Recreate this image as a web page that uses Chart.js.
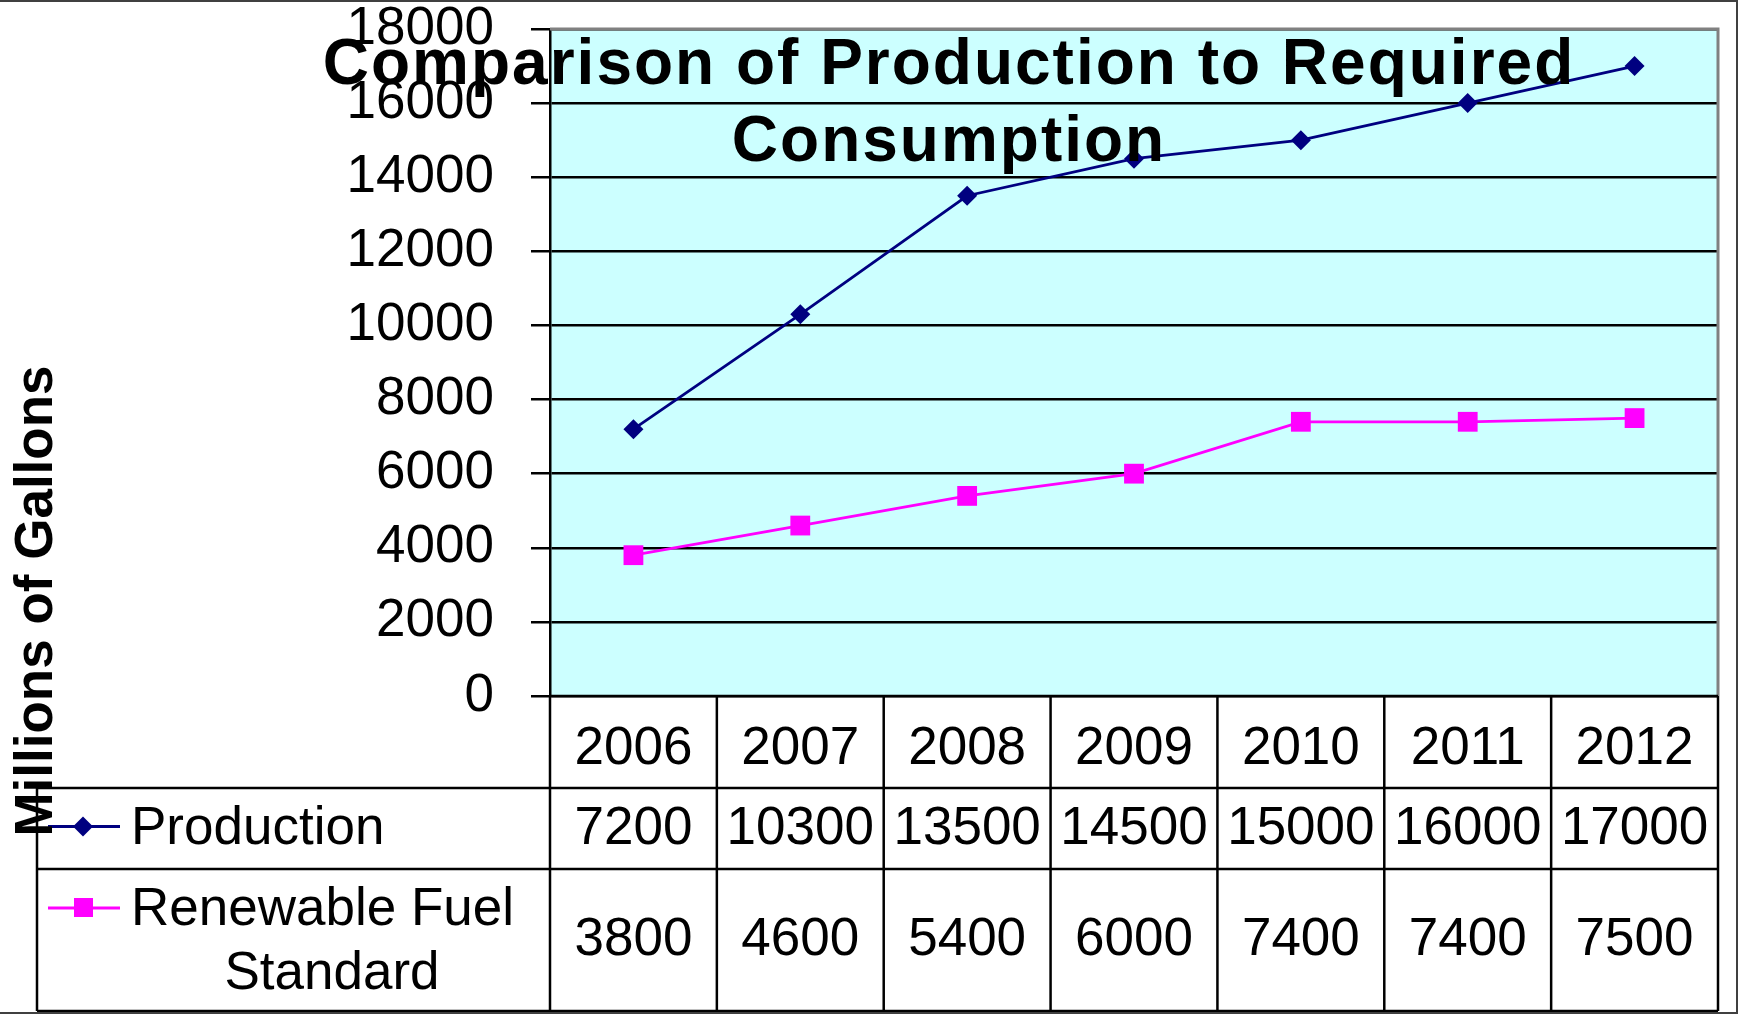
<!DOCTYPE html>
<html>
<head>
<meta charset="utf-8">
<title>Comparison of Production to Required Consumption</title>
<script src="https://cdn.jsdelivr.net/npm/chart.js@4.4.1/dist/chart.umd.min.js"></script>
<style>
    html, body { margin: 0; padding: 0; background: #ffffff; }
    #chart { display: block; }
</style>
</head>
<body>
<canvas id="chart" width="1739" height="1015"></canvas>
<script>
const years = ['2006', '2007', '2008', '2009', '2010', '2011', '2012'];
const production = [7200, 10300, 13500, 14500, 15000, 16000, 17000];
const renewableFuel = [3800, 4600, 5400, 6000, 7400, 7400, 7500];
const yTicks = [0, 2000, 4000, 6000, 8000, 10000, 12000, 14000, 16000, 18000];
const titleLines = ['Comparison of Production to Required', 'Consumption'];
const yTitle = 'Millions of Gallons';

const FONT = '"Liberation Sans", Arial, sans-serif';

// fundo azul claro da area do grafico
const plotBackground = {
    id: 'plotBackground',
    beforeDraw(chart) {
        const { ctx, chartArea } = chart;
        ctx.save();
        ctx.fillStyle = '#ccffff';
        ctx.fillRect(chartArea.left, chartArea.top, chartArea.right - chartArea.left, chartArea.bottom - chartArea.top);
        ctx.restore();
    }
};

// tabela de dados embaixo do eixo x, com legenda
const dataTable = {
    id: 'dataTable',
    afterDraw(chart) {
        const { ctx, chartArea } = chart;
        const x = chart.scales.x;
        const left = chartArea.left, right = chartArea.right, top = chartArea.bottom;
        const row1 = top + 92, row2 = top + 173, bottom = top + 315;
        const legendLeft = 37;

        ctx.save();
        // borda cinza da area do grafico (topo e direita)
        ctx.strokeStyle = '#808080';
        ctx.lineWidth = 3;
        ctx.beginPath();
        ctx.moveTo(left, chartArea.top);
        ctx.lineTo(right, chartArea.top);
        ctx.lineTo(right, chartArea.bottom);
        ctx.stroke();

        ctx.strokeStyle = '#000000';
        ctx.lineWidth = 2.5;
        ctx.beginPath();
        ctx.moveTo(left, top); ctx.lineTo(right, top);
        ctx.moveTo(legendLeft, row1); ctx.lineTo(right, row1);
        ctx.moveTo(legendLeft, row2); ctx.lineTo(right, row2);
        ctx.moveTo(legendLeft, bottom); ctx.lineTo(right, bottom);
        ctx.moveTo(legendLeft, row1); ctx.lineTo(legendLeft, bottom);
        ctx.moveTo(left, top); ctx.lineTo(left, bottom);
        ctx.moveTo(right, top); ctx.lineTo(right, bottom);
        for (let i = 0; i < years.length - 1; i++) {
            const bx = (x.getPixelForValue(i) + x.getPixelForValue(i + 1)) / 2;
            ctx.moveTo(bx, top); ctx.lineTo(bx, bottom);
        }
        ctx.stroke();

        ctx.fillStyle = '#000000';
        ctx.font = '53px ' + FONT;
        ctx.textAlign = 'center';
        ctx.textBaseline = 'middle';
        years.forEach((y, i) => {
            const cx = x.getPixelForValue(i);
            ctx.fillText(String(production[i]), cx, (row1 + row2) / 2 + 1);
            ctx.fillText(String(renewableFuel[i]), cx, (row2 + bottom) / 2);
        });

        // legenda
        const ds = chart.data.datasets;
        const keyY1 = (row1 + row2) / 2 - 2, keyY2 = row2 + 39;
        ctx.lineWidth = 2.8;
        ctx.strokeStyle = ds[0].borderColor;
        ctx.beginPath(); ctx.moveTo(48, keyY1); ctx.lineTo(120, keyY1); ctx.stroke();
        ctx.fillStyle = ds[0].borderColor;
        ctx.beginPath();
        ctx.moveTo(83, keyY1 - 10); ctx.lineTo(93, keyY1); ctx.lineTo(83, keyY1 + 10); ctx.lineTo(73, keyY1);
        ctx.closePath(); ctx.fill();

        ctx.strokeStyle = ds[1].borderColor;
        ctx.beginPath(); ctx.moveTo(48, keyY2); ctx.lineTo(120, keyY2); ctx.stroke();
        ctx.fillStyle = ds[1].borderColor;
        ctx.fillRect(74, keyY2 - 10, 19, 19);

        ctx.fillStyle = '#000000';
        ctx.textAlign = 'left';
        ctx.fillText(ds[0].label, 131, keyY1 + 3);
        ctx.fillText('Renewable Fuel', 131, keyY2 + 2);
        ctx.textAlign = 'center';
        ctx.fillText('Standard', 332, keyY2 + 66);

        // titulo do eixo y
        ctx.save();
        ctx.translate(37, 601);
        ctx.rotate(-Math.PI / 2);
        ctx.font = 'bold 53px ' + FONT;
        ctx.fillText(yTitle, 0, 0);
        ctx.restore();

        // titulo sobreposto ao grafico
        ctx.font = 'bold 64px ' + FONT;
        if ('letterSpacing' in ctx) ctx.letterSpacing = '2px';
        ctx.fillText(titleLines[0], 949, 66);
        ctx.fillText(titleLines[1], 949, 143);

        // borda externa
        ctx.letterSpacing = '0px';
        ctx.strokeStyle = '#404040';
        ctx.lineWidth = 2;
        ctx.beginPath();
        ctx.moveTo(0, 1); ctx.lineTo(1737, 1);
        ctx.lineTo(1737, 1013); ctx.lineTo(0, 1013);
        ctx.stroke();
        ctx.restore();
    }
};

new Chart(document.getElementById('chart'), {
    type: 'line',
    data: {
        labels: years,
        datasets: [
            {
                label: 'Production',
                data: production,
                borderColor: '#000080',
                backgroundColor: '#000080',
                borderWidth: 2.8,
                pointStyle: 'rectRot',
                pointRadius: 10,
                pointBorderWidth: 0,
                tension: 0
            },
            {
                label: 'Renewable Fuel Standard',
                data: renewableFuel,
                borderColor: '#ff00ff',
                backgroundColor: '#ff00ff',
                borderWidth: 2.8,
                pointStyle: 'rect',
                pointRadius: 14,
                pointBorderWidth: 0,
                tension: 0
            }
        ]
    },
    options: {
        responsive: false,
        animation: false,
        devicePixelRatio: 1,
        layout: { padding: { left: 0, top: 29, right: 21, bottom: 4 } },
        plugins: {
            legend: { display: false },
            tooltip: { enabled: false },
            title: { display: false }
        },
        scales: {
            x: {
                type: 'category',
                offset: true,
                grid: { display: false },
                border: { display: false },
                ticks: {
                    color: '#000000',
                    font: { family: FONT, size: 53 },
                    padding: 14,
                    maxRotation: 0,
                    autoSkip: false
                },
                afterFit(scale) {
                    scale.height = 315;
                    scale.paddingLeft = 0;
                    scale.paddingRight = 0;
                }
            },
            y: {
                min: yTicks[0],
                max: yTicks[yTicks.length - 1],
                afterBuildTicks(scale) {
                    scale.ticks = yTicks.map(v => ({ value: v }));
                },
                grid: {
                    color: '#000000',
                    lineWidth: 2.5,
                    tickLength: 19
                },
                border: { display: true, color: '#000000', width: 2.5 },
                ticks: {
                    color: '#000000',
                    font: { family: FONT, size: 53 },
                    padding: 37,
                    callback: (value) => String(value)
                },
                afterFit(scale) {
                    scale.width = 550;
                    scale.paddingTop = 0;
                    scale.paddingBottom = 0;
                }
            }
        }
    },
    plugins: [plotBackground, dataTable]
});
</script>
</body>
</html>
